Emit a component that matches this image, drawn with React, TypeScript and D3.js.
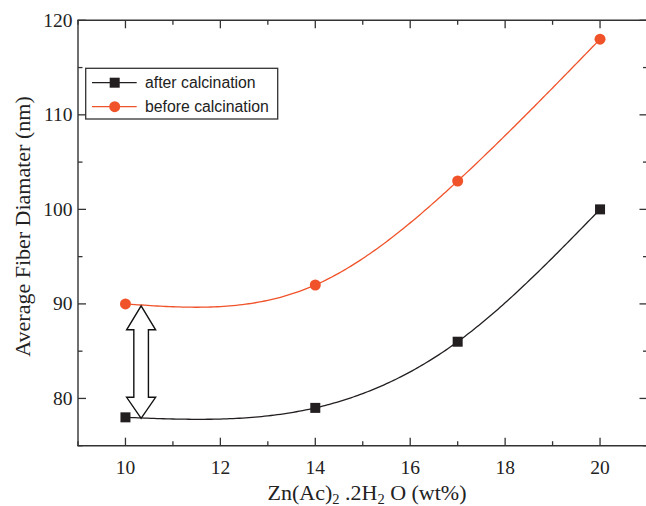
import React from "react";
import * as d3 from "d3";

const xValues = [10, 14, 17, 20];
const afterCalcination = [78, 79, 86, 100];
const beforeCalcination = [90, 92, 103, 118];
const xMajorTicks = [10, 12, 14, 16, 18, 20];
const xMinorTicks = [9, 11, 13, 15, 17, 19, 21];
const yMajorTicks = [80, 90, 100, 110, 120];
const yMinorTicks = [75, 85, 95, 105, 115];
const arrowX = 10.33;
const arrowFrom = 77.9;
const arrowTo = 89.8;

const W = 646;
const H = 506;
const left = 78;
const right = 647.5;
const top = 20.3;
const bottom = 445.7;

const ORANGE = "#f0532a";
const BLACK = "#231f20";
const AXIS = "#333";

// natural cubic spline y(x) through the data points, sampled for drawing
function splineSamples(xs: number[], ys: number[], steps = 60): [number, number][] {
  const n = xs.length;
  const h: number[] = [];
  for (let i = 0; i < n - 1; i++) h.push(xs[i + 1] - xs[i]);
  const a: number[] = new Array(n).fill(0);
  const b: number[] = new Array(n).fill(1);
  const c: number[] = new Array(n).fill(0);
  const r: number[] = new Array(n).fill(0);
  for (let i = 1; i < n - 1; i++) {
    a[i] = h[i - 1];
    b[i] = 2 * (h[i - 1] + h[i]);
    c[i] = h[i];
    r[i] = 6 * ((ys[i + 1] - ys[i]) / h[i] - (ys[i] - ys[i - 1]) / h[i - 1]);
  }
  const cp = new Array(n).fill(0);
  const rp = new Array(n).fill(0);
  cp[0] = c[0] / b[0];
  rp[0] = r[0] / b[0];
  for (let i = 1; i < n; i++) {
    const m = b[i] - a[i] * cp[i - 1];
    cp[i] = c[i] / m;
    rp[i] = (r[i] - a[i] * rp[i - 1]) / m;
  }
  const M = new Array(n).fill(0);
  M[n - 1] = rp[n - 1];
  for (let i = n - 2; i >= 0; i--) M[i] = rp[i] - cp[i] * M[i + 1];
  const out: [number, number][] = [];
  for (let i = 0; i < n - 1; i++) {
    for (let s = 0; s <= steps; s++) {
      if (i > 0 && s === 0) continue;
      const t = xs[i] + (h[i] * s) / steps;
      const A = (xs[i + 1] - t) / h[i];
      const B = (t - xs[i]) / h[i];
      const v =
        A * ys[i] +
        B * ys[i + 1] +
        ((A * A * A - A) * M[i] + (B * B * B - B) * M[i + 1]) * (h[i] * h[i]) / 6;
      out.push([t, v]);
    }
  }
  return out;
}

export default function App() {
  const x = d3.scaleLinear().domain([9, 21]).range([left, right]);
  const y = d3.scaleLinear().domain([75, 120]).range([bottom, top]);

  const line = d3
    .line<[number, number]>()
    .x((d) => x(d[0]))
    .y((d) => y(d[1]));

  const afterPts = xValues.map((v, i) => [v, afterCalcination[i]] as [number, number]);
  const beforePts = xValues.map((v, i) => [v, beforeCalcination[i]] as [number, number]);
  const afterCurve = splineSamples(xValues, afterCalcination);
  const beforeCurve = splineSamples(xValues, beforeCalcination);

  const ax = x(arrowX);
  const yTop = y(arrowTo);
  const yBot = y(arrowFrom);
  const headHalf = 14.5;
  const shaftHalf = 7.3;
  const headLen = 24;
  const headLenB = 21;
  const arrowPath = [
    [ax, yTop],
    [ax + headHalf, yTop + headLen],
    [ax + shaftHalf, yTop + headLen],
    [ax + shaftHalf, yBot - headLenB],
    [ax + headHalf, yBot - headLenB],
    [ax, yBot],
    [ax - headHalf, yBot - headLenB],
    [ax - shaftHalf, yBot - headLenB],
    [ax - shaftHalf, yTop + headLen],
    [ax - headHalf, yTop + headLen],
  ];

  const serif = "'Liberation Serif', 'Times New Roman', serif";
  const sans = "'Liberation Sans', Arial, sans-serif";

  return (
    <svg
      width={W}
      height={H}
      style={{ position: "absolute", left: 0, top: 0, background: "#fff" }}
    >
      <rect x={0} y={0} width={W} height={H} fill="#fff" />
      <path d={line(afterCurve) || ""} fill="none" stroke={BLACK} strokeWidth={1.3} />
      <path d={line(beforeCurve) || ""} fill="none" stroke={ORANGE} strokeWidth={1.3} />

      <polygon
        points={arrowPath.map((p) => p.join(",")).join(" ")}
        fill="#fff"
        stroke="#111"
        strokeWidth={1.4}
        strokeLinejoin="miter"
      />

      {afterPts.map((p, i) => (
        <rect
          key={"a" + i}
          x={x(p[0]) - 5}
          y={y(p[1]) - 5}
          width={10}
          height={10}
          fill={BLACK}
        />
      ))}
      {beforePts.map((p, i) => (
        <circle key={"b" + i} cx={x(p[0])} cy={y(p[1])} r={5.5} fill={ORANGE} />
      ))}

      <g stroke={AXIS} strokeWidth={1.4} fill="none">
        <line x1={left} y1={top} x2={left} y2={bottom} />
        <line x1={left - 0.7} y1={bottom} x2={right} y2={bottom} />
        <line x1={left - 0.7} y1={top} x2={right} y2={top} />
        <line x1={right} y1={top} x2={right} y2={bottom} />
      </g>

      <g stroke={AXIS} strokeWidth={1.3}>
        {xMajorTicks.map((t) => (
          <g key={"xm" + t}>
            <line x1={x(t)} x2={x(t)} y1={bottom} y2={bottom - 8} />
            <line x1={x(t)} x2={x(t)} y1={top} y2={top + 8} />
          </g>
        ))}
        {xMinorTicks.map((t) => (
          <g key={"xn" + t}>
            <line x1={x(t)} x2={x(t)} y1={bottom} y2={bottom - 4.5} />
            <line x1={x(t)} x2={x(t)} y1={top} y2={top + 4.5} />
          </g>
        ))}
        {yMajorTicks.map((t) => (
          <g key={"ym" + t}>
            <line x1={left} x2={left + 8} y1={y(t)} y2={y(t)} />
            <line x1={right} x2={right - 8} y1={y(t)} y2={y(t)} />
          </g>
        ))}
        {yMinorTicks.map((t) => (
          <g key={"yn" + t}>
            <line x1={left} x2={left + 4.5} y1={y(t)} y2={y(t)} />
            <line x1={right} x2={right - 4.5} y1={y(t)} y2={y(t)} />
          </g>
        ))}
      </g>

      <g fontFamily={serif} fontSize={19.5} fill="#222">
        {xMajorTicks.map((t) => (
          <text key={"xl" + t} x={x(t)} y={474} textAnchor="middle">
            {t}
          </text>
        ))}
        {yMajorTicks.map((t) => (
          <text key={"yl" + t} x={72.5} y={y(t) + 6.5} textAnchor="end">
            {t}
          </text>
        ))}
      </g>

      <text
        fontFamily={serif}
        fontSize={22}
        fill="#222"
        textAnchor="middle"
        transform={`translate(29.5,${(95 + 358) / 2}) rotate(-90)`}
      >
        Average Fiber Diamater (nm)
      </text>
      <text fontFamily={serif} fontSize={22} fill="#222" x={367} y={500} textAnchor="middle">
        Zn(Ac)
        <tspan fontSize={14.5} dy={4}>2</tspan>
        <tspan dy={-4}>{"\u00a0.2H"}</tspan>
        <tspan fontSize={14.5} dy={4}>2</tspan>
        <tspan dy={-4}>{"\u00a0O (wt%)"}</tspan>
      </text>

      <rect x={85.7} y={68.3} width={192} height={50.7} fill="#fff" stroke={AXIS} strokeWidth={1.3} />
      <line x1={92} x2={136.7} y1={82.7} y2={82.7} stroke={BLACK} strokeWidth={1.3} />
      <rect x={114.7 - 5} y={82.7 - 5} width={10} height={10} fill={BLACK} />
      <line x1={92} x2={136.7} y1={106.7} y2={106.7} stroke={ORANGE} strokeWidth={1.3} />
      <circle cx={114.7} cy={106.7} r={5.5} fill={ORANGE} />
      <g fontFamily={sans} fontSize={15.8} fill="#222">
        <text x={145} y={88.3}>after calcination</text>
        <text x={145} y={112.3}>before calcination</text>
      </g>
    </svg>
  );
}
